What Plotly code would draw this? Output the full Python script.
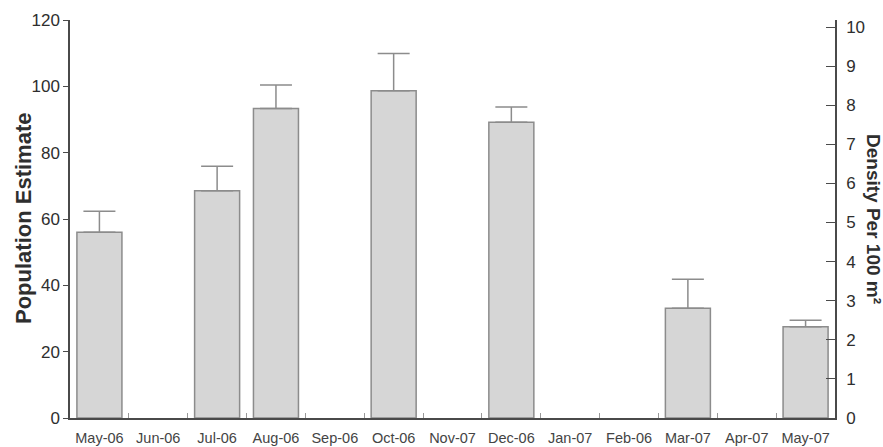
import plotly.graph_objects as go

# Monthly sampling periods (labels as recorded on the survey sheet)
months = ["May-06", "Jun-06", "Jul-06", "Aug-06", "Sep-06", "Oct-06", "Nov-07",
          "Dec-06", "Jan-07", "Feb-06", "Mar-07", "Apr-07", "May-07"]

# Population estimates (no estimate for unsampled months)
population = [56.0, None, 68.5, 93.3, None, 98.7, None, 89.2, None, None, 33.1, None, 27.5]

# Upper error (standard error) for each estimate
error_upper = [6.3, 0, 7.4, 7.1, 0, 11.2, 0, 4.6, 0, 0, 8.7, 0, 2.0]

pop_ticks = [0, 20, 40, 60, 80, 100, 120]
density_ticks = list(range(0, 11))

FONT = "Liberation Sans, Arial, sans-serif"
AXIS = "#4a4a4a"
TEXT = "#2e2e2e"

fig = go.Figure()

fig.add_trace(go.Bar(
    x=months,
    y=population,
    marker=dict(color="#d6d6d6", line=dict(color="#8c8c8c", width=1.5)),
    error_y=dict(type="data", symmetric=False, array=error_upper,
                 arrayminus=[0] * len(error_upper),
                 color="#8c8c8c", thickness=1.5, width=16),
    showlegend=False,
))

# Empty trace bound to the density axis so the right-hand scale is drawn
fig.add_trace(go.Scatter(x=[], y=[], yaxis="y2", showlegend=False,
                         hoverinfo="skip"))

fig.update_layout(
    width=883, height=447,
    margin=dict(l=70, r=48, t=20, b=29),
    paper_bgcolor="white", plot_bgcolor="white",
    bargap=0.235,
    font=dict(family=FONT, color=TEXT),
    xaxis=dict(
        type="category", categoryorder="array", categoryarray=months,
        range=[-0.5, 12.5], automargin=False,
        showline=True, linecolor=AXIS, linewidth=1.5,
        ticks="inside", tickson="boundaries", ticklen=5, tickcolor="#999999",
        tickfont=dict(size=14.5, color="#444444"), ticklabelstandoff=6,
        showgrid=False, zeroline=False,
    ),
    yaxis=dict(
        range=[0, 120], tickvals=pop_ticks, automargin=False,
        showline=True, linecolor=AXIS, linewidth=1.5,
        ticks="outside", ticklen=5, tickcolor=AXIS,
        tickfont=dict(size=17, color=TEXT),
        showgrid=False, zeroline=False,
    ),
    yaxis2=dict(
        overlaying="y", side="right", anchor="x",
        range=[0, 10.18], tickvals=density_ticks, automargin=False,
        showline=True, linecolor=AXIS, linewidth=1.5,
        ticks="inside", ticklen=9, tickcolor=AXIS,
        tickfont=dict(size=17, color=TEXT), ticklabelstandoff=6,
        showgrid=False, zeroline=False,
    ),
    annotations=[
        dict(text="<b>Population Estimate</b>", xref="paper", yref="paper",
             x=0, y=0.5, xshift=-47, textangle=-90, showarrow=False,
             xanchor="center", yanchor="middle",
             font=dict(size=22, color=TEXT, family=FONT)),
        dict(text="<b>Density Per 100 m²</b>", xref="paper", yref="paper",
             x=1, y=0.5, xshift=39, textangle=90, showarrow=False,
             xanchor="center", yanchor="middle",
             font=dict(size=19, color=TEXT, family=FONT)),
    ],
)

fig.write_html("out.html")
